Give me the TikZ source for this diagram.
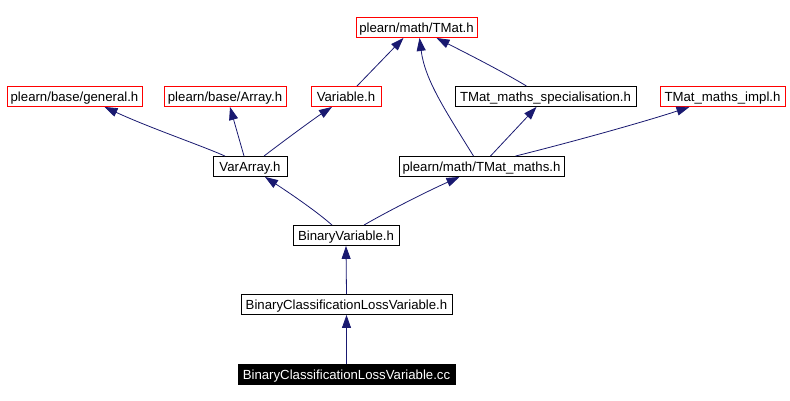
\documentclass[tikz,border=0pt]{standalone}
\usepackage{fontspec}
\setmainfont{Liberation Sans}
\usetikzlibrary{arrows.meta,calc}
\definecolor{edgeblue}{RGB}{25,25,112}
\definecolor{redborder}{RGB}{255,0,0}
\begin{document}
\begin{tikzpicture}[x=1pt,y=-1pt,
  box/.style={draw=black,line width=0.9pt,minimum height=20pt,inner sep=0pt,text height=10.5pt,text depth=0pt,font=\fontsize{13.2}{14}\selectfont,anchor=center},
  redbox/.style={box,draw=redborder},
  blackbox/.style={box,fill=black,text=white},
  dep/.style={draw=edgeblue,line width=0.8pt,-{Triangle[length=13pt,width=9pt]}}]
\useasboundingbox (0,0) rectangle (790,401);
\node[redbox,minimum width=121pt] (tmat) at (416.5,27.5) {plearn/math/TMat.h};
\node[redbox,minimum width=135pt] (gen) at (74.5,96.5) {plearn/base/general.h};
\node[redbox,minimum width=122pt] (arr) at (225,96.5) {plearn/base/Array.h};
\node[redbox,minimum width=70pt] (var) at (346,96.5) {Variable.h};
\node[box,minimum width=181pt] (spec) at (545.5,96.5) {TMat\_maths\_specialisation.h};
\node[redbox,minimum width=125pt] (impl) at (722.5,96.5) {TMat\_maths\_impl.h};
\node[box,minimum width=74pt] (va) at (250,166.5) {VarArray.h};
\node[box,minimum width=165pt] (tm) at (481.5,166.5) {plearn/math/TMat\_maths.h};
\node[box,minimum width=106pt] (bv) at (346,235.5) {BinaryVariable.h};
\node[box,minimum width=211pt] (bclh) at (346.5,304.5) {BinaryClassificationLossVariable.h};
\node[blackbox,minimum width=217pt] (bclc) at (346.5,374.5) {BinaryClassificationLossVariable.cc};
% edges
\draw[dep] ($(va.north)+(-25,0)$) .. controls (200,145) and (150,128) .. ($(gen.south)+(30,0)$);
\draw[dep] ($(va.north)+(-6,0)$) -- ($(arr.south)+(5,0)$);
\draw[dep] ($(va.north)+(14,0)$) .. controls (285,140) and (315,118) .. ($(var.south)+(-14,0)$);
\draw[dep] ($(var.north)+(11,0)$) -- ($(tmat.south)+(-13,0)$);
\draw[dep] ($(spec.north)+(-19,0)$) .. controls (500,70) and (460,50) .. ($(tmat.south)+(20,0)$);
\draw[dep] ($(tm.north)+(-8,0)$) .. controls (445,110) and (425,80) .. ($(tmat.south)+(3,0)$);
\draw[dep] ($(tm.north)+(9,0)$) -- ($(spec.south)+(-9,0)$);
\draw[dep] ($(tm.north)+(34,0)$) .. controls (580,140) and (650,120) .. ($(impl.south)+(-33,0)$);
\draw[dep] ($(bv.north)+(-14,0)$) .. controls (315,210) and (285,190) .. ($(va.south)+(15,0)$);
\draw[dep] ($(bv.north)+(18,0)$) .. controls (390,210) and (430,190) .. ($(tm.south)+(-22,0)$);
\draw[dep] (bclh.north) -- (bv.south);
\draw[dep] (bclc.north) -- (bclh.south);
\end{tikzpicture}
\end{document}
